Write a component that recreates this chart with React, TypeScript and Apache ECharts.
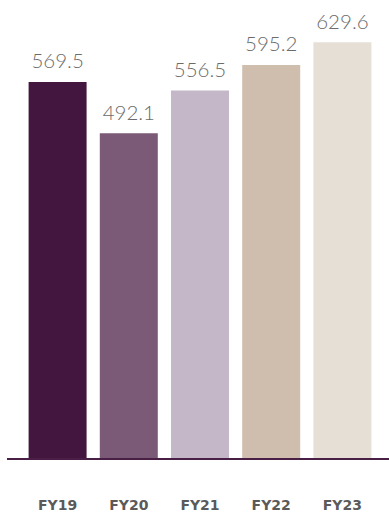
import React, { useEffect, useRef } from "react";
import * as echarts from "echarts";

const categories = ["FY19", "FY20", "FY21", "FY22", "FY23"];
const values = [569.5, 492.1, 556.5, 595.2, 629.6];
const barColors = ["#43163f", "#7b5a78", "#c4b8c8", "#cfbdae", "#e6dfd6"];

export default function App() {
  const ref = useRef<HTMLDivElement>(null);
  useEffect(() => {
    if (!ref.current) return;
    const chart = echarts.init(ref.current, null, { renderer: "svg" });
    chart.setOption({
      animation: false,
      backgroundColor: "#ffffff",
      grid: { left: 22, right: 11, top: 22, bottom: 54, containLabel: false },
      xAxis: {
        type: "category",
        data: categories,
        axisLine: { show: false },
        axisTick: { show: false },
        axisLabel: {
          margin: 39,
          color: "#5a5a5a",
          fontFamily: "DejaVu Sans",
          fontWeight: "bold",
          fontSize: 14,
        },
      },
      yAxis: {
        type: "value",
        min: 0,
        max: 660,
        show: false,
        splitLine: { show: false },
      },
      graphic: [
        {
          type: "line",
          shape: { x1: 7, y1: 459, x2: 389, y2: 459 },
          style: { stroke: "#4a1f46", lineWidth: 2 },
          z: 10,
        },
      ],
      series: [
        {
          type: "bar",
          barWidth: 58,
          data: values.map((v, i) => ({ value: v, itemStyle: { color: barColors[i] } })),
          label: {
            show: true,
            position: "top",
            distance: 11,
            color: "#6b6b6b",
            fontFamily: "Lato",
            fontWeight: 300,
            fontSize: 20.5,
            formatter: (p: any) => Number(p.value).toFixed(1),
          },
        },
      ],
    });
    return () => chart.dispose();
  }, []);
  return (
    <div
      ref={ref}
      style={{ position: "fixed", left: 0, top: 0, width: 389, height: 513 }}
    />
  );
}
